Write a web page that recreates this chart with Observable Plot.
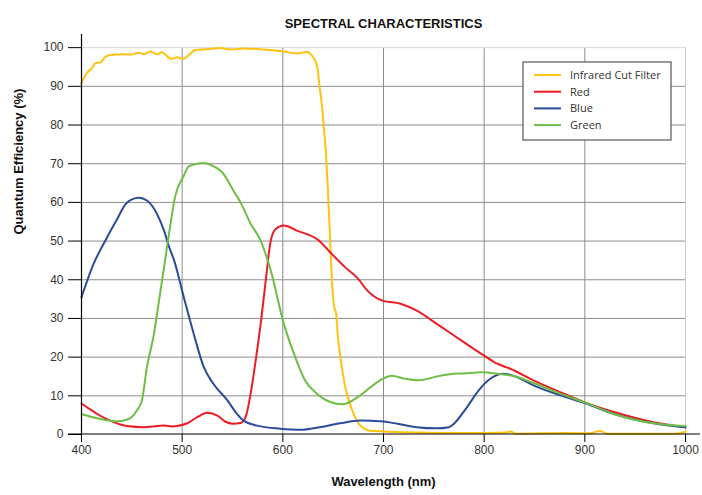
<!DOCTYPE html>
<html><head><meta charset="utf-8">
<script src="https://cdn.jsdelivr.net/npm/d3@7"></script>
<script src="https://cdn.jsdelivr.net/npm/@observablehq/plot@0.6"></script>
<style>
body{margin:0;background:#fff;}
#chart svg{display:block;}
</style></head><body><div id="chart"></div>
<script>
const seriesNames = ["Infrared Cut Filter","Red","Blue","Green"];
const seriesColors = ["#FFC20E","#ED1C24","#2B4C9B","#6DBE45"];
const xTicks = [400,500,600,700,800,900,1000];
const yTicks = [0,10,20,30,40,50,60,70,80,90,100];

const irWl = [400,403,406,410,414,419,424,429,434,442,449,457,462,468,475,480,485,489,495,501,507,513,525,538,548,561,581,601,614,624,629,634,636.6,639,640.6,643,645,647,649,651,653,654.6,657.2,662,669,677,687,700,720,766,800,822,826,832,880,905,915,922,990,1000];
const irQe = [90.8,92.5,93.6,94.6,96.0,96.2,97.7,98.1,98.2,98.3,98.2,98.7,98.3,99.0,98.3,98.8,97.8,97.1,97.5,97.1,98.2,99.4,99.6,99.9,99.5,99.8,99.5,99.0,98.5,98.9,97.9,95.3,89.7,84.6,79.8,72,62,50,38.9,33,31.2,25.6,20.0,12.2,6.2,2.3,1.0,0.8,0.6,0.4,0.4,0.5,0.8,0.2,0.4,0.3,0.9,0.2,0.2,0.7];

const redWl = [400,408,415.6,424,432,445,462,472,482,490,495,505,515,525,535,543,550,558,563,568,573,578,583,588,593,601,614,636,647,662,674,684,699,717,733,753,770,800,813,826,849,876,900,929,968,1000];
const redQe = [8.0,6.6,5.3,4.1,3.2,2.2,1.9,2.1,2.3,2.1,2.2,2.9,4.5,5.6,4.9,3.3,2.8,3.0,4.5,10.5,19.1,28.6,39.8,50.1,53.1,54.0,52.7,50.1,47.1,43.2,40.5,37.2,34.6,33.8,32.0,28.6,25.6,20.4,18.3,17.0,14.0,10.9,8.3,5.8,3.2,1.9];

const blueWl = [400,412,425.5,435,444,450,457,465,475,482,487,492,501.6,511.5,521.5,531,545,553,561,574.5,597.6,617.5,637,657,677,697,713.5,733,753,765,770,783,794.6,806,819,833,849,876,900,929,968,1000];
const blueQe = [35.5,44.1,51.0,55.5,59.6,60.8,61.2,60.5,57.0,52.7,48.5,45.0,35.5,26.0,17.4,13.1,8.8,5.8,3.6,2.3,1.5,1.2,1.9,2.9,3.6,3.4,2.8,1.9,1.6,1.9,2.8,7.1,11.4,14.4,15.7,14.8,12.7,10.1,8.1,5.3,2.9,1.9];

const greenWl = [400,419,435.5,447,455,460,465,472,477,482,487,493,501.6,506.5,515,521.5,530,541,551,558,568,578,588,601,611,622,634,647,659,674,687,699,708.5,720,735,753,766,780,798,813,829,849,876,900,929,968,1000];
const greenQe = [5.3,4.0,3.4,4.0,6.2,8.8,17.4,26.0,34.6,43.2,52.0,61.5,66.9,69.3,70.0,70.2,69.5,67.4,63.0,60.0,54.5,50.1,42.4,28.6,20.9,14.0,10.5,8.4,7.8,9.6,12.2,14.4,15.2,14.5,14.0,15.0,15.6,15.8,16.1,15.7,15.1,13.3,10.5,8.3,5.3,2.9,2.2];

const allWl = [irWl, redWl, blueWl, greenWl];
const allQe = [irQe, redQe, blueQe, greenQe];
const data = [];
seriesNames.forEach((s,i)=>allWl[i].forEach((w,j)=>data.push({series:s, wl:w, qe:allQe[i][j]})));

const narrow = "'Liberation Sans Narrow','Arial Narrow','Liberation Sans',Arial,sans-serif";

const plot = Plot.plot({
  width: 702, height: 495,
  marginLeft: 81, marginRight: 17, marginTop: 34, marginBottom: 61,
  style: {fontFamily: narrow, fontSize: "12px", color: "#333", background: "#fff"},
  x: {domain: [400,1000]},
  y: {domain: [0,103.4]},
  color: {domain: seriesNames, range: seriesColors},
  marks: [
    Plot.ruleX(xTicks.filter(d=>d>400), {y1:0, y2:100, stroke: d=>d===1000?"#c8c8c8":"#8c8c8c", strokeWidth:1}),
    Plot.ruleY(yTicks.filter(d=>d>0), {x1:400, x2:1000, stroke: d=>d===100?"#d8d8d8":"#8c8c8c", strokeWidth:1}),
    Plot.line(data, {x:"wl", y:"qe", z:"series", stroke:"series", strokeWidth:2, curve:"monotone-x"}),
    Plot.ruleX([400], {y1:0, y2:103.4, stroke:"#000", strokeWidth:1.2}),
    Plot.axisY(yTicks, {tickSize:13, tickPadding:5, label:null, fontSize:12, fill:"#333", stroke:"#000"}),
    Plot.axisX(xTicks, {tickSize:8, tickPadding:3, label:null, fontSize:12, fill:"#333", stroke:"#000", tickFormat:d=>String(d)}),
    Plot.text(["SPECTRAL CHARACTERISTICS"], {frameAnchor:"top", dy:-16, fontWeight:"bold", fontSize:13, fill:"#111"}),
    Plot.text(["Wavelength (nm)"], {frameAnchor:"bottom", dy:51, fontWeight:"bold", fontSize:13, fill:"#111"}),
    Plot.text(["Quantum Efficiency (%)"], {frameAnchor:"left", dx:-63, rotate:-90, fontWeight:"bold", fontSize:13, fill:"#111"})
  ]
});
document.getElementById("chart").appendChild(plot);

// extended x-axis baseline and legend
const svg = d3.select(plot);
const y0 = plot.scale("y").apply(0);
svg.append("line").attr("x1",68).attr("x2",700).attr("y1",y0).attr("y2",y0).attr("stroke","#000").attr("stroke-width",1.2);

const lg = svg.append("g").attr("transform","translate(523,62)").attr("text-anchor","start");
lg.append("rect").attr("width",148).attr("height",78).attr("fill","#fff").attr("stroke","#555").attr("stroke-width",1.2);
seriesNames.forEach((s,i)=>{
  const yy = 13 + i*16.7;
  lg.append("line").attr("x1",11).attr("x2",38).attr("y1",yy).attr("y2",yy).attr("stroke",seriesColors[i]).attr("stroke-width",2);
  lg.append("text").attr("x",47).attr("y",yy).attr("dy","0.35em").attr("text-anchor","start").attr("font-family","'Open Sans','Noto Sans',sans-serif").attr("font-size",11).attr("fill","#333").text(s);
});
</script></body></html>
